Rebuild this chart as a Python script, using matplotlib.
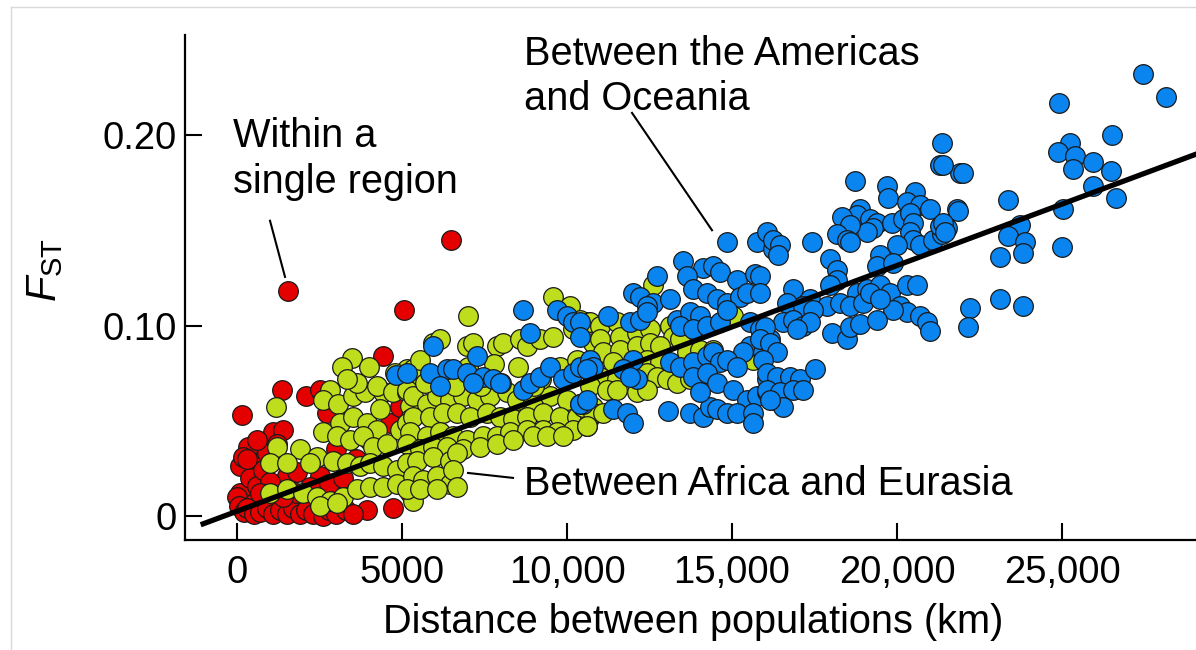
import numpy as np
import matplotlib
matplotlib.use("Agg")
import matplotlib.pyplot as plt
from matplotlib.lines import Line2D

plt.rcParams['font.family'] = ['Liberation Sans', 'DejaVu Sans']
plt.rcParams['mathtext.fontset'] = 'custom'
plt.rcParams['mathtext.rm'] = 'Liberation Sans'
plt.rcParams['mathtext.it'] = 'Liberation Sans:italic'

# (distance km, FST)
within_region = [
    (1550, 0.118), (6480, 0.145), (5060, 0.108), (4424, 0.084), (1364, 0.066),
    (2090, 0.063), (150, 0.053), (1090, 0.044), (1390, 0.045), (330, 0.036),
    (100, 0.026), (180, 0.031), (700, 0.028), (100, 0.012), (0, 0.010),
    (500, 0.007), (3940, 0.003), (4730, 0.004), (4640, 0.049), (4940, 0.057),
    (2730, 0.054), (2520, 0.066), (1500, 0.021), (1820, 0.023), (2500, 0.021),
    (50, 0.005), (200, 0.002), (300, 0.004), (500, 0.001), (700, 0.002),
    (900, 0.004), (1100, 0.001), (1300, 0.003), (1500, 0.001), (1700, 0.004),
    (1900, 0.001), (2100, 0.003), (2300, 0.001), (2600, 0.000), (2800, 0.003),
    (3000, 0.001), (3300, 0.003), (3500, 0.001), (400, 0.020), (600, 0.016),
    (800, 0.024), (1000, 0.018), (300, 0.030), (900, 0.033), (1200, 0.038),
    (600, 0.040), (1800, 0.012), (2200, 0.015), (2800, 0.017), (3200, 0.020),
    (1400, 0.010), (700, 0.012), (3600, 0.030), (4000, 0.040), (3000, 0.035),
]

africa_eurasia = [
    (3480, 0.083), (3180, 0.078), (1180, 0.057), (2820, 0.066), (2610, 0.061),
    (3060, 0.059), (3520, 0.063), (3880, 0.065), (3640, 0.070), (3330, 0.072),
    (4420, 0.065), (4240, 0.068), (4730, 0.065), (5150, 0.065), (5390, 0.077),
    (5240, 0.058), (3120, 0.049), (3520, 0.052), (3940, 0.049), (4240, 0.045),
    (2610, 0.044), (3030, 0.042), (3420, 0.040), (3820, 0.042), (4120, 0.036),
    (4550, 0.038), (4940, 0.045), (5240, 0.051), (5330, 0.040), (1210, 0.036),
    (1910, 0.035), (2420, 0.031), (2910, 0.029), (3330, 0.028), (3730, 0.026),
    (4030, 0.028), (4420, 0.026), (4850, 0.024), (1000, 0.028), (1500, 0.028),
    (2210, 0.028), (1000, 0.012), (1500, 0.014), (2000, 0.012), (2420, 0.010),
    (2820, 0.008), (3210, 0.010), (3640, 0.014), (4030, 0.015), (4420, 0.015),
    (4850, 0.017), (5240, 0.012), (2520, 0.005), (3030, 0.007), (5330, 0.008),
    (5150, 0.077), (5450, 0.072), (4330, 0.056), (5150, 0.049),
    (7000, 0.105), (9580, 0.115), (10090, 0.110), (5940, 0.091), (6150, 0.093),
    (6970, 0.089), (7150, 0.091), (7880, 0.089), (8060, 0.091), (8580, 0.093),
    (8790, 0.089), (9180, 0.093), (9580, 0.094), (10180, 0.098), (10600, 0.102),
    (10790, 0.091), (5330, 0.077), (5550, 0.082), (5150, 0.066), (5330, 0.063),
    (5760, 0.059), (6060, 0.063), (6450, 0.061), (6850, 0.063), (7270, 0.061),
    (7670, 0.063), (8180, 0.065), (8480, 0.061), (8970, 0.061), (9480, 0.063),
    (10000, 0.061), (10390, 0.059), (10790, 0.057), (5330, 0.052), (5850, 0.052),
    (6240, 0.054), (6670, 0.054), (7060, 0.052), (7580, 0.054), (7970, 0.052),
    (8360, 0.051), (8790, 0.052), (9270, 0.054), (9790, 0.052), (10300, 0.052),
    (10700, 0.052), (5240, 0.044), (5760, 0.042), (6150, 0.044), (6550, 0.042),
    (6970, 0.040), (7450, 0.042), (7880, 0.042), (8270, 0.044), (8790, 0.045),
    (9270, 0.045), (9700, 0.044), (10180, 0.045), (10600, 0.047), (5150, 0.038),
    (5550, 0.035), (5940, 0.036), (6360, 0.036), (6850, 0.035), (7360, 0.036),
    (7880, 0.038), (8360, 0.040), (8970, 0.042), (9390, 0.042), (9880, 0.042),
    (5150, 0.028), (5450, 0.029), (5940, 0.031), (6450, 0.029), (6670, 0.033),
    (5330, 0.021), (5640, 0.019), (6060, 0.021), (6450, 0.017), (6550, 0.024),
    (5150, 0.014), (5550, 0.014), (6060, 0.014), (6670, 0.015),
    (6300, 0.075), (7000, 0.078), (7800, 0.080), (8500, 0.078), (9200, 0.072),
    (9800, 0.078), (10300, 0.082), (8000, 0.070), (9000, 0.068), (6600, 0.068),
    (7400, 0.068), (5700, 0.070), (4800, 0.075), (4000, 0.078),
    (12610, 0.121), (10390, 0.103), (10700, 0.102), (11000, 0.100), (11520, 0.102),
    (11000, 0.093), (11610, 0.094), (12120, 0.096), (12520, 0.098), (13120, 0.100),
    (13210, 0.094), (13420, 0.093), (15030, 0.105), (11090, 0.086), (11610, 0.087),
    (12120, 0.089), (12520, 0.091), (12820, 0.089), (11390, 0.081), (12420, 0.082),
    (12820, 0.081), (13640, 0.086), (14030, 0.087), (14420, 0.087), (11000, 0.073),
    (11520, 0.072), (12420, 0.075), (12730, 0.073), (13030, 0.072), (13330, 0.070),
    (13730, 0.072), (14240, 0.075), (10700, 0.068), (11210, 0.066), (11520, 0.066),
    (12120, 0.065), (12420, 0.066), (10480, 0.057), (10790, 0.054), (11090, 0.054),
    (10600, 0.047), (15640, 0.082),
]

americas_oceania = [
    (4820, 0.074), (8670, 0.108), (9700, 0.108), (10000, 0.105), (10180, 0.102),
    (8880, 0.096), (5940, 0.089), (7270, 0.084), (5150, 0.075), (5850, 0.075),
    (6360, 0.077), (6550, 0.077), (6970, 0.075), (7450, 0.073), (7760, 0.072),
    (7970, 0.070), (6150, 0.068), (7150, 0.070), (8670, 0.066), (8880, 0.070),
    (9180, 0.073), (9480, 0.078), (9880, 0.072), (10180, 0.075), (10390, 0.078),
    (10700, 0.081), (10480, 0.059),
    (14850, 0.144), (15760, 0.144), (16240, 0.140), (13520, 0.134), (14120, 0.130),
    (14420, 0.131), (14640, 0.128), (15150, 0.124), (15700, 0.127), (12730, 0.126),
    (13640, 0.126), (12000, 0.117), (12210, 0.115), (12610, 0.112), (12420, 0.110),
    (13120, 0.114), (13820, 0.119), (14240, 0.117), (14550, 0.114), (14850, 0.112),
    (15240, 0.115), (15450, 0.117), (11240, 0.105), (11910, 0.102), (12210, 0.103),
    (12420, 0.107), (13330, 0.103), (13730, 0.107), (14030, 0.105), (13420, 0.100),
    (13820, 0.098), (14240, 0.100), (14640, 0.102), (14850, 0.108), (15550, 0.102),
    (15850, 0.098), (16150, 0.093), (15550, 0.089), (15330, 0.086), (15940, 0.086),
    (16240, 0.087), (10390, 0.102), (10390, 0.094), (10700, 0.082), (10790, 0.078),
    (10600, 0.077), (12000, 0.082), (12120, 0.072), (11700, 0.077), (11910, 0.073),
    (13120, 0.081), (13420, 0.078), (13820, 0.081), (14240, 0.084), (14420, 0.086),
    (14640, 0.081), (14850, 0.082), (15150, 0.078), (13820, 0.073), (14240, 0.075),
    (14550, 0.070), (15030, 0.066), (15450, 0.061), (15760, 0.063), (16060, 0.072),
    (16060, 0.065), (16240, 0.061), (10390, 0.059), (10600, 0.061), (11390, 0.056),
    (11820, 0.054), (12000, 0.049), (13060, 0.055), (13730, 0.054), (14120, 0.052),
    (14330, 0.057), (14550, 0.056), (14850, 0.054), (15150, 0.054), (15640, 0.054),
    (15640, 0.049), (14030, 0.065),
    (21300, 0.184), (21910, 0.180), (18730, 0.176), (19700, 0.173), (19730, 0.167),
    (20550, 0.170), (20300, 0.165), (20700, 0.163), (21000, 0.161), (21820, 0.161),
    (18880, 0.161), (18790, 0.158), (19180, 0.156), (19390, 0.154), (19270, 0.151),
    (19090, 0.149), (18330, 0.157), (18580, 0.153), (18180, 0.148), (18480, 0.145),
    (18580, 0.144), (19850, 0.154), (20180, 0.156), (20390, 0.159), (20480, 0.154),
    (20390, 0.149), (20480, 0.145), (20700, 0.142), (21090, 0.145), (21360, 0.148),
    (21300, 0.152), (21510, 0.151), (20000, 0.142), (19480, 0.137), (19390, 0.131),
    (19880, 0.133), (17420, 0.144), (16060, 0.149), (16240, 0.145), (16450, 0.142),
    (16390, 0.137), (15850, 0.126), (15850, 0.117), (17970, 0.135), (18180, 0.129),
    (18180, 0.124), (17970, 0.121), (16850, 0.119), (17360, 0.114), (18790, 0.117),
    (19090, 0.119), (19480, 0.121), (19790, 0.117), (20300, 0.121), (20610, 0.121),
    (20090, 0.110), (20300, 0.107), (19880, 0.108), (20700, 0.105), (20910, 0.102),
    (21000, 0.097), (17880, 0.110), (18270, 0.112), (18580, 0.110), (18970, 0.112),
    (19180, 0.117), (19480, 0.114), (16670, 0.112), (17150, 0.110), (17450, 0.108),
    (16550, 0.102), (16850, 0.103), (17150, 0.100), (17360, 0.102), (16970, 0.098),
    (18030, 0.096), (18480, 0.093), (18580, 0.099), (18880, 0.101), (19390, 0.103),
    (16000, 0.099), (15850, 0.093), (16150, 0.091), (16360, 0.086), (15940, 0.082),
    (16060, 0.075), (16360, 0.073), (16760, 0.073), (17060, 0.072), (17510, 0.077),
    (16060, 0.066), (16450, 0.065), (16850, 0.066), (17150, 0.066), (16550, 0.057),
    (16150, 0.061),
    (27450, 0.232), (28150, 0.220), (24900, 0.217), (26520, 0.200), (25240, 0.196),
    (24880, 0.191), (25390, 0.189), (25330, 0.182), (25940, 0.186), (26480, 0.181),
    (25940, 0.173), (26640, 0.167), (25030, 0.161), (25000, 0.141), (23360, 0.166),
    (23730, 0.153), (23360, 0.147), (23880, 0.144), (23820, 0.138), (23120, 0.136),
    (23120, 0.114), (23820, 0.110), (22210, 0.109), (22150, 0.099), (21360, 0.196),
    (21390, 0.184), (22000, 0.180), (21850, 0.160), (21390, 0.154), (21450, 0.149),
]

# regression line
fit_intercept = 0.0025
fit_slope = 6.45e-6
fit_range = [-1100, 30000]

x_ticks = [0, 5000, 10000, 15000, 20000, 25000]
x_ticklabels = ['0', '5000', '10,000', '15,000', '20,000', '25,000']
y_ticks = [0, 0.10, 0.20]
y_ticklabels = ['0', '0.10', '0.20']

red = '#e50000'
yellow = '#bedd1c'
blue = '#0a84ee'

fig = plt.figure(figsize=(11.96, 6.5), dpi=100)
ax = fig.add_axes([185 / 1196, 1 - 540 / 650, 1 - 185 / 1196, 505 / 650])

for pts, col in [(within_region, red), (africa_eurasia, yellow), (americas_oceania, blue)]:
    d = np.array(pts)
    ax.scatter(d[:, 0], d[:, 1], s=200, c=col, edgecolors='#1a1a1a', linewidths=0.9, zorder=2)

fx = np.array(fit_range)
ax.plot(fx, fit_intercept + fit_slope * fx, color='black', lw=3.8, zorder=5, solid_capstyle='butt')

ax.set_xlim(-1576, 29060)
ax.set_ylim(-0.0126, 0.2525)
ax.spines['top'].set_visible(False)
ax.spines['right'].set_visible(False)
for s in ['left', 'bottom']:
    ax.spines[s].set_linewidth(1.6)
ax.set_xticks(x_ticks)
ax.set_xticklabels(x_ticklabels)
ax.set_yticks(y_ticks)
ax.set_yticklabels(y_ticklabels)
ax.tick_params(direction='in', length=12.5, width=1.5, labelsize=27.5)
ax.tick_params(axis='x', pad=11)
ax.tick_params(axis='y', pad=6)

fs = 28.6
ax.text(-121, 0.1937, 'Within a', fontsize=fs, va='baseline')
ax.text(-121, 0.1696, 'single region', fontsize=fs, va='baseline')
ax.plot([1000, 1455], [0.155, 0.1255], color='black', lw=1.5, zorder=6)

ax.text(8697, 0.2367, 'Between the Americas', fontsize=fs, va='baseline')
ax.text(8697, 0.2131, 'and Oceania', fontsize=fs, va='baseline')
ax.plot([11970, 14394], [0.2116, 0.150], color='black', lw=1.5, zorder=6)

ax.text(8697, 0.011, 'Between Africa and Eurasia', fontsize=fs, va='baseline')
ax.plot([7000, 8364], [0.0226, 0.020], color='black', lw=1.5, zorder=6)

fig.text(45 / 1196, 1 - 270 / 650, r'$F_{\rm ST}$', fontsize=30, rotation=90,
         ha='center', va='center')
fig.text(693 / 1196, 1 - 622 / 650, 'Distance between populations (km)', fontsize=fs,
         ha='center', va='center')

# faint frame of the original screenshot
fig.add_artist(Line2D([11 / 1196, 11 / 1196], [0, 1 - 7 / 650], color='#d9d9d9', lw=1))
fig.add_artist(Line2D([11 / 1196, 1], [1 - 7 / 650, 1 - 7 / 650], color='#d9d9d9', lw=1))

fig.savefig('out.png', dpi=100)
